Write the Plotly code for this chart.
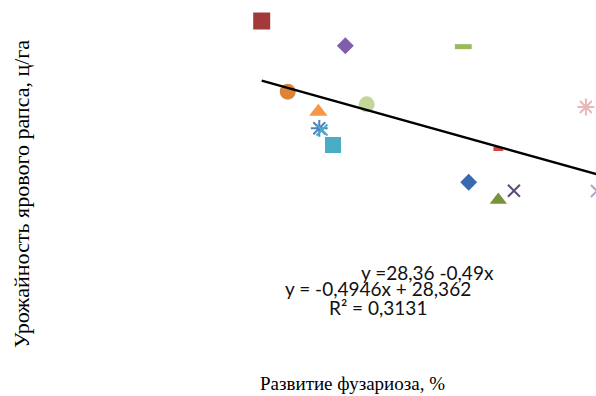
import plotly.graph_objects as go

# Data points (fusarium development %, yield c/ha), one per marker style
x_vals = [5.0, 11.97, 21.8, 7.17, 13.75, 9.72, 9.8, 10.02, 10.94, 24.72, 32.02, 22.25, 24.72, 26.02, 32.94]
y_vals = [34.7, 31.05, 30.91, 24.26, 22.4, 21.31, 18.86, 18.61, 16.39, 15.8, 22.0, 10.88, 8.27, 9.64, 9.6]
symbols = ["square", "diamond", "line-ew-open", "circle", "circle", "triangle-up",
           "asterisk-open", "x-thin-open", "square", "line-ew-open", "asterisk-open",
           "diamond", "triangle-up", "x-thin-open", "x-thin-open"]
colors = ["#A33A3A", "#7F5FAA", "#9BBB59", "#DB8438", "#C4D79B", "#F79646",
          "#4F81BD", "#4BACC6", "#4BACC6", "#D9453F", "#E6B9B8",
          "#3A6AAE", "#77933C", "#5F497A", "#B3A2C7"]
sizes = [17, 13, 12, 16, 16, 16, 14, 11, 16, 7, 14, 13, 15, 12, 12]

# Trendline coefficients
slope = -0.4946
intercept = 28.362

x_range = [-16.81, 32.86]
y_range = [-20.67, 37.80]

fig = go.Figure()

for xv, yv, sym, col, sz in zip(x_vals, y_vals, symbols, colors, sizes):
    is_open = sym.endswith("-open")
    lw = 2
    if sym == "line-ew-open":
        lw = 5 if sz > 8 else 4
    fig.add_trace(go.Scatter(
        x=[xv], y=[yv], mode="markers",
        marker=dict(symbol=sym, size=sz, color=col,
                    line=dict(color=col, width=lw if is_open else 0)),
        showlegend=False, cliponaxis=True,
    ))

xmin, xmax = min(x_vals), max(x_vals)
fig.add_trace(go.Scatter(
    x=[xmin, xmax], y=[intercept + slope * xmin, intercept + slope * xmax],
    mode="lines", line=dict(color="black", width=2.5), showlegend=False,
))

fig.update_layout(
    width=596, height=396,
    margin=dict(l=0, r=0, t=0, b=0),
    paper_bgcolor="white", plot_bgcolor="white",
    xaxis=dict(range=x_range, visible=False, showgrid=False, zeroline=False),
    yaxis=dict(range=y_range, visible=False, showgrid=False, zeroline=False),
)


def add_text(text, px, py, font, angle=0):
    fig.add_annotation(text=text, xref="paper", yref="paper",
                       x=px / 596, y=1 - py / 396, xanchor="center", yanchor="middle",
                       showarrow=False, textangle=angle, font=font)


ann_font = dict(family="Lato, Open Sans, sans-serif", size=19, color="#111111")
add_text("y =28,36 -0,49x", 427, 272, ann_font)
add_text("y = -0,4946x + 28,362", 378, 288, ann_font)
add_text("R² = 0,3131", 377.5, 307, ann_font)

add_text("Урожайность ярового рапса, ц/га", 22, 194,
         dict(family="Liberation Serif, Times New Roman, serif", size=22, color="black"), angle=-90)
add_text("Развитие фузариоза, %", 353, 383,
         dict(family="Liberation Serif, Times New Roman, serif", size=19, color="black"))

fig.write_html("out.html", config={"displayModeBar": False},
               post_script="document.body.style.margin='0px';")
